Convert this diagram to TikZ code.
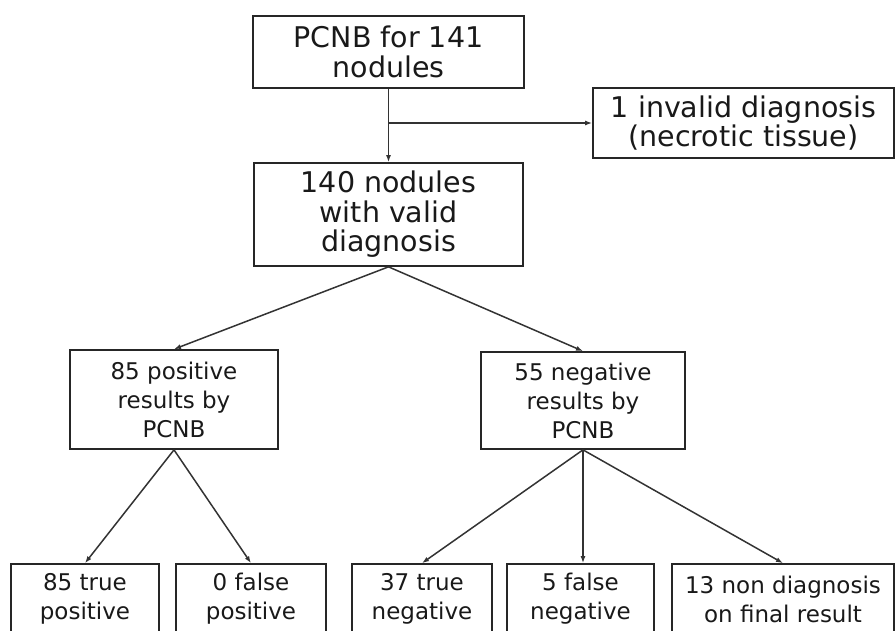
\documentclass[tikz,border=0pt]{standalone}
\usepackage{fontspec}
\setmainfont{DejaVu Sans}
\usepackage{tikz}
\usetikzlibrary{arrows.meta}
\tikzset{
    bigbox/.style={draw=black!85, line width=1.7pt, inner sep=0pt, align=center, text=black!90,
        font=\fontsize{28.5}{29.5}\selectfont},
    smallbox/.style={draw=black!85, line width=1.7pt, inner sep=0pt, align=center, text=black!90,
        font=\fontsize{23}{29}\selectfont},
    arr/.style={-{Latex[length=7pt,width=5pt]}, line width=1.5pt, draw=black!80}
}

\begin{document}
\begin{tikzpicture}[x=1pt, y=-1pt]
  \clip (0,0) rectangle (896,631);
  % top
  \node[bigbox, minimum width=271, minimum height=72] (pcnb) at (388.5,52) {PCNB for 141\\nodules};
  \node[bigbox, minimum width=301, minimum height=70] (inv) at (743.5,123) {1 invalid diagnosis\\(necrotic tissue)};
  \node[bigbox, minimum width=269, minimum height=103] (valid) at (388.5,214.5) {140 nodules\\with valid\\diagnosis};
  % middle
  \node[smallbox, minimum width=208, minimum height=99] (pos) at (174,399.5) {85 positive\\results by\\PCNB};
  \node[smallbox, minimum width=204, minimum height=97] (neg) at (583,400.5) {55 negative\\results by\\PCNB};
  % bottom, cut off by the page edge
  \node[smallbox, minimum width=148, minimum height=70] (tp) at (85,599) {85 true\\positive};
  \node[smallbox, minimum width=150, minimum height=70] (fp) at (251,599) {0 false\\positive};
  \node[smallbox, minimum width=140, minimum height=70] (tn) at (422,599) {37 true\\negative};
  \node[smallbox, minimum width=147, minimum height=70] (fn) at (580.5,599) {5 false\\negative};
  \node[smallbox, minimum width=222, minimum height=70] (nd) at (783,599) {13 non diagnosis\\on final result};

  \draw[arr] (pcnb.south) -- (pcnb.south |- valid.north);
  \draw[arr] (pcnb.south |- inv.west) -- (inv.west);
  \draw[arr] (valid.south) -- (pos.north);
  \draw[arr] (valid.south) -- (neg.north);
  \foreach \t in {tp,fp} \draw[arr] (pos.south) -- (\t.north);
  \foreach \t in {tn,nd} \draw[arr] (neg.south) -- (\t.north);
  \draw[arr] (neg.south) -- (neg.south |- fn.north);
\end{tikzpicture}
\end{document}
